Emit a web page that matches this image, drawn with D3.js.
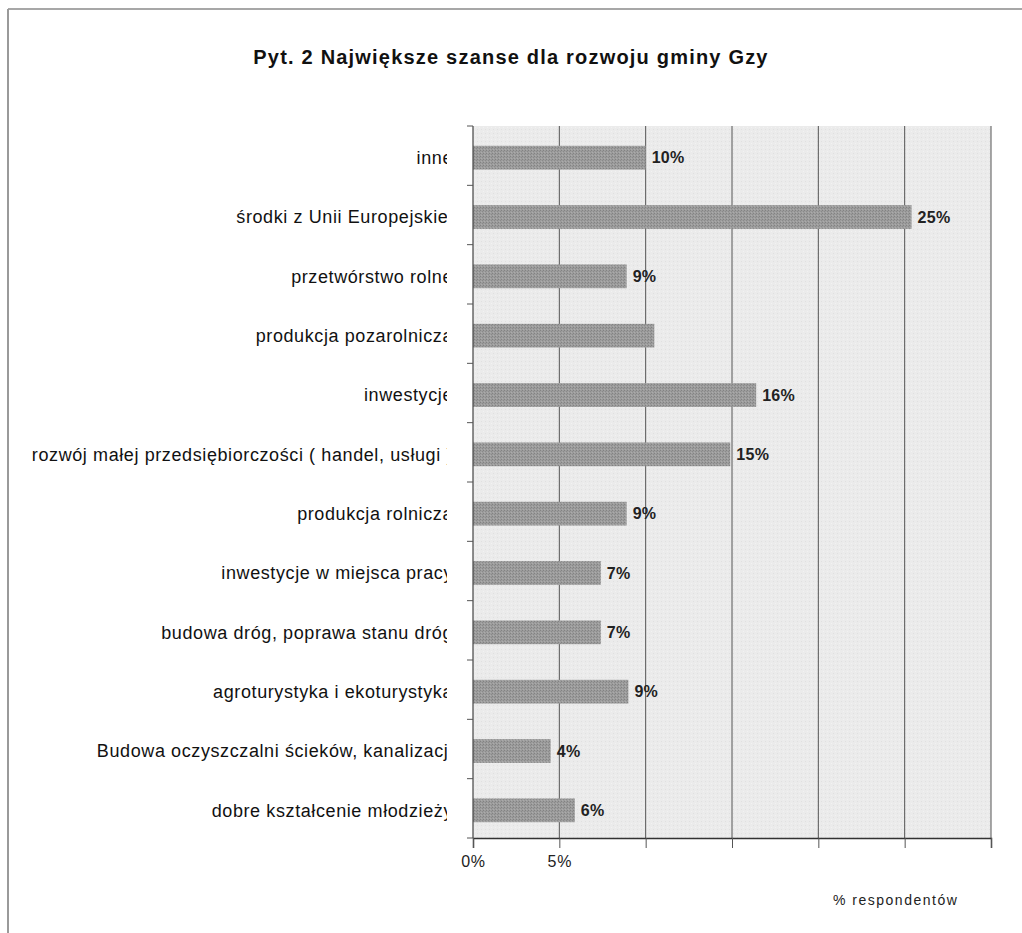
<!DOCTYPE html>
<html>
<head>
<meta charset="utf-8">
<script src="https://cdn.jsdelivr.net/npm/d3@7/dist/d3.min.js"></script>
<style>
  html, body { margin: 0; padding: 0; background: #fff; }
  svg { display: block; }
  text { font-family: "Liberation Sans", Arial, sans-serif; }
</style>
</head>
<body>
<svg id="chart" width="1022" height="933"></svg>
<script>
const title = "Pyt. 2 Największe szanse dla rozwoju gminy Gzy";
const categories = [
  "inne",
  "środki z Unii Europejskiej",
  "przetwórstwo rolne",
  "produkcja pozarolnicza",
  "inwestycje",
  "rozwój małej przedsiębiorczości ( handel, usługi )",
  "produkcja rolnicza",
  "inwestycje w miejsca pracy",
  "budowa dróg, poprawa stanu dróg",
  "agroturystyka i ekoturystyka",
  "Budowa oczyszczalni ścieków, kanalizacji",
  "dobre kształcenie młodzieży"
];
const values = [10.0, 25.4, 8.9, 10.5, 16.4, 14.9, 8.9, 7.4, 7.4, 9.0, 4.5, 5.9];
const valueLabels = ["10%", "25%", "9%", "", "16%", "15%", "9%", "7%", "7%", "9%", "4%", "6%"];
const xTicks = [0, 5, 10, 15, 20, 25, 30];
const xTickLabels = ["0%", "5%", "", "", "", "", ""];
const xAxisTitle = "% respondentów";

const svg = d3.select("#chart");
const plot = { left: 473, right: 991, top: 126, bottom: 838 };

const defs = svg.append("defs");
const bgPat = defs.append("pattern").attr("id", "bgpat")
  .attr("width", 4).attr("height", 4).attr("patternUnits", "userSpaceOnUse");
bgPat.append("rect").attr("width", 4).attr("height", 4).attr("fill", "#ebebeb");
bgPat.append("rect").attr("x", 1).attr("y", 1).attr("width", 1).attr("height", 1).attr("fill", "#e0e0e0");
bgPat.append("rect").attr("x", 3).attr("y", 3).attr("width", 1).attr("height", 1).attr("fill", "#f2f2f2");

const barPat = defs.append("pattern").attr("id", "barpat")
  .attr("width", 3).attr("height", 3).attr("patternUnits", "userSpaceOnUse");
barPat.append("rect").attr("width", 3).attr("height", 3).attr("fill", "#9c9c9c");
barPat.append("rect").attr("x", 0).attr("y", 0).attr("width", 1).attr("height", 1).attr("fill", "#828282");
barPat.append("rect").attr("x", 2).attr("y", 1).attr("width", 1).attr("height", 1).attr("fill", "#8a8a8a");
barPat.append("rect").attr("x", 1).attr("y", 2).attr("width", 1).attr("height", 1).attr("fill", "#ababab");

defs.append("clipPath").attr("id", "labelclip")
  .append("rect").attr("x", 0).attr("y", 0).attr("width", 447).attr("height", 933);

// frame
svg.append("line").attr("x1", 8).attr("x2", 1022).attr("y1", 9).attr("y2", 9)
  .attr("stroke", "#8a8a8a").attr("stroke-width", 1.5);
svg.append("line").attr("x1", 8).attr("x2", 8).attr("y1", 9).attr("y2", 933)
  .attr("stroke", "#9a9a9a").attr("stroke-width", 2);

// title
svg.append("text").attr("x", 511).attr("y", 64).attr("text-anchor", "middle")
  .attr("font-size", 20).attr("font-weight", "bold").attr("letter-spacing", 1.2)
  .attr("fill", "#111").text(title);

const x = d3.scaleLinear().domain([0, 30]).range([plot.left, plot.right]);
const y = d3.scaleBand().domain(categories).range([plot.top, plot.bottom]).paddingInner(0.6).paddingOuter(0.3);
const yBands = d3.scaleBand().domain(categories).range([plot.top, plot.bottom]);

// plot background
svg.append("rect").attr("x", plot.left).attr("y", plot.top)
  .attr("width", plot.right - plot.left).attr("height", plot.bottom - plot.top)
  .attr("fill", "url(#bgpat)");

// gridlines
svg.append("g").selectAll("line").data(xTicks.slice(1)).join("line")
  .attr("x1", d => x(d)).attr("x2", d => x(d))
  .attr("y1", plot.top).attr("y2", plot.bottom)
  .attr("stroke", "#555").attr("stroke-width", 1);

// bars
svg.append("g").selectAll("rect").data(categories).join("rect")
  .attr("x", x(0))
  .attr("y", d => y(d) + 2)
  .attr("width", (d, i) => x(values[i]) - x(0))
  .attr("height", y.bandwidth())
  .attr("fill", "url(#barpat)");

// value labels
svg.append("g").selectAll("text").data(categories).join("text")
  .attr("x", (d, i) => x(values[i]) + 6)
  .attr("y", d => y(d) + 2 + y.bandwidth() / 2)
  .attr("dy", "0.36em")
  .attr("font-size", 16).attr("font-weight", "bold").attr("letter-spacing", 0.3)
  .attr("fill", "#222")
  .text((d, i) => valueLabels[i]);

// x axis
const xAxis = d3.axisBottom(x).tickValues(xTicks).tickSize(10)
  .tickFormat((d, i) => xTickLabels[i]);
const gx = svg.append("g").attr("transform", `translate(0,${plot.bottom})`).call(xAxis);
gx.select(".domain").attr("stroke", "#333").attr("stroke-width", 1.5);
gx.selectAll(".tick line").attr("stroke", "#555");
gx.selectAll(".tick text").attr("font-size", 16).attr("fill", "#222")
  .attr("letter-spacing", 0.8).attr("dy", "1.0em")
  .attr("font-family", "'Liberation Sans', Arial, sans-serif");

// y axis (ticks at band boundaries)
const boundaries = categories.map(c => yBands(c)).concat([plot.bottom]);
svg.append("line").attr("x1", plot.left).attr("x2", plot.left)
  .attr("y1", plot.top).attr("y2", plot.bottom).attr("stroke", "#444").attr("stroke-width", 1.2);
svg.append("g").selectAll("line").data(boundaries).join("line")
  .attr("x1", plot.left - 6).attr("x2", plot.left)
  .attr("y1", d => d).attr("y2", d => d)
  .attr("stroke", "#555");

// category labels (clipped like in original)
svg.append("g").attr("clip-path", "url(#labelclip)")
  .selectAll("text").data(categories).join("text")
  .attr("x", 453)
  .attr("y", d => yBands(d) + yBands.bandwidth() / 2 + 2)
  .attr("dy", "0.36em")
  .attr("text-anchor", "end")
  .attr("font-size", 18).attr("letter-spacing", 0.6)
  .attr("fill", "#111")
  .text(d => d);

// x axis title
svg.append("text").attr("x", 833).attr("y", 905)
  .attr("font-size", 14).attr("letter-spacing", 1.5).attr("fill", "#222")
  .text(xAxisTitle);
</script>
</body>
</html>
